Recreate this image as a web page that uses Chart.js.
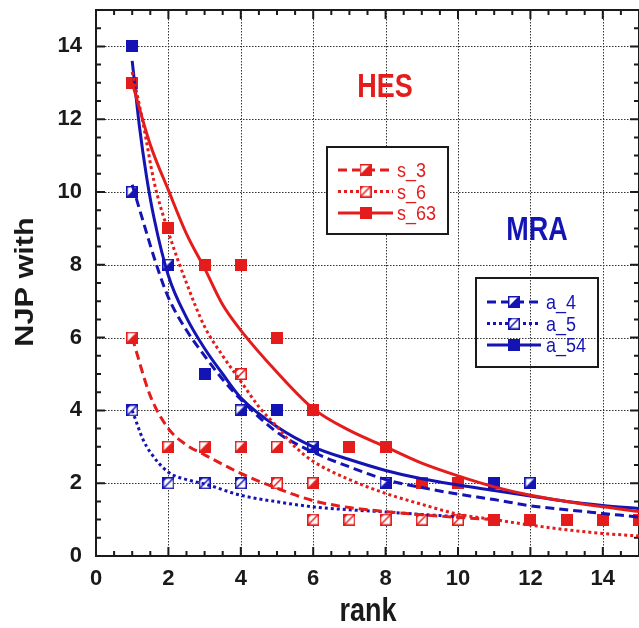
<!DOCTYPE html>
<html>
<head>
<meta charset="utf-8">
<title>NJP with vs rank</title>
<script src="https://cdn.jsdelivr.net/npm/chart.js@4.4.0/dist/chart.umd.min.js"></script>
<style>
  html, body { margin: 0; padding: 0; background: #fff; }
  #wrap { width: 639px; height: 628px; }
</style>
</head>
<body>
<div id="wrap"><canvas id="njpChart" width="639" height="628"></canvas></div>
<script>
// tick labels
const xTickLabels = [0, 2, 4, 6, 8, 10, 12, 14];
const yTickLabels = [0, 2, 4, 6, 8, 10, 12, 14];

// HES - measured points
const s63Ranks = [1, 2, 3, 4, 5, 6, 7, 8, 9, 10, 11, 12, 13, 14, 15];
const s63Values = [13, 9, 8, 8, 6, 4, 3, 3, 2, 2, 1, 1, 1, 1, 1];
const s3Ranks = [1, 2, 3, 4, 5, 6];
const s3Values = [6, 3, 3, 3, 3, 2];
const s6Ranks = [4, 5, 6, 7, 8, 9, 10];
const s6Values = [5, 2, 1, 1, 1, 1, 1];

// HES - fitted curves
const s63FitX = [1, 1.5, 2, 2.5, 3, 3.5, 4, 5, 6, 7, 8, 9, 10, 11, 12, 13, 14, 15];
const s63FitY = [13, 11.3, 10.05, 8.85, 7.9, 6.9, 6.2, 5.05, 4.05, 3.45, 3.0, 2.55, 2.2, 1.9, 1.67, 1.5, 1.35, 1.22];
const s6FitX = [1, 1.3, 1.6, 2, 2.5, 3, 3.5, 4, 4.5, 5, 5.5, 6, 7, 8, 9, 10, 11, 12, 13, 14, 15];
const s6FitY = [13.3, 11.9, 10.3, 8.9, 7.5, 6.3, 5.5, 4.8, 4.1, 3.55, 3.0, 2.6, 2.1, 1.72, 1.42, 1.15, 1.0, 0.85, 0.72, 0.62, 0.55];
const s3FitX = [1, 1.5, 2, 2.5, 3, 4, 5, 6, 7, 8, 9, 10, 11];
const s3FitY = [6, 4.4, 3.5, 3.05, 2.78, 2.27, 1.86, 1.52, 1.33, 1.22, 1.13, 1.06, 1.0];

// MRA - measured points
const a54Ranks = [1, 3, 5, 11];
const a54Values = [14, 5, 4, 2];
const a4Ranks = [1, 2, 4, 6, 8, 12];
const a4Values = [10, 8, 4, 3, 2, 2];
const a5Ranks = [1, 2, 3, 4];
const a5Values = [4, 2, 2, 2];

// MRA - fitted curves
const a54FitX = [1, 1.2, 1.4, 1.6, 2, 2.5, 3, 3.5, 4, 5, 6, 7, 8, 9, 10, 11, 12, 13, 14, 15];
const a54FitY = [13.6, 11.8, 10.4, 9.3, 7.7, 6.55, 5.7, 5.0, 4.35, 3.55, 3.0, 2.65, 2.35, 2.12, 1.95, 1.8, 1.65, 1.5, 1.39, 1.3];
const a4FitX = [1, 1.3, 1.67, 2, 2.5, 3, 3.5, 4, 5, 6, 7, 8, 9, 10, 11, 12, 13, 14, 15];
const a4FitY = [10.2, 9.2, 8.0, 7.1, 6.2, 5.5, 4.85, 4.3, 3.4, 2.85, 2.45, 2.1, 1.88, 1.7, 1.55, 1.38, 1.27, 1.17, 1.07];
const a5FitX = [1, 1.3, 1.5, 2, 2.5, 3, 4, 5, 6, 7, 8, 9, 10];
const a5FitY = [4.0, 3.2, 2.85, 2.3, 2.1, 1.98, 1.67, 1.49, 1.35, 1.27, 1.21, 1.14, 1.08];

const RED = '#e41c1c';
const BLUE = '#1414b4';
const INK = '#1a1a1a';
const DASHED = [9, 5];
const DOTTED = [3, 3];

// small square symbols like in the original plot
function makeMarker(color, kind) {
    const size = 12;
    const c = document.createElement('canvas');
    c.width = size; c.height = size;
    const g = c.getContext('2d');
    if (kind === 'filled') {
        g.fillStyle = color;
        g.fillRect(0, 0, size, size);
        return c;
    }
    g.fillStyle = '#fff';
    g.fillRect(0, 0, size, size);
    g.fillStyle = color;
    g.beginPath();
    if (kind === 'half') {
        g.moveTo(size, 0); g.lineTo(size, size); g.lineTo(0, size);
    } else {
        g.moveTo(0, 0); g.lineTo(size * 0.45, 0); g.lineTo(0, size * 0.45);
    }
    g.closePath();
    g.fill();
    g.strokeStyle = color;
    g.lineWidth = 1.5;
    g.strokeRect(0.75, 0.75, size - 1.5, size - 1.5);
    g.beginPath(); g.moveTo(0, size); g.lineTo(size, 0); g.stroke();
    return c;
}

function pairs(xs, ys) {
    return xs.map((x, i) => ({ x: x, y: ys[i] }));
}

function fitLine(label, xs, ys, color, dash) {
    return {
        label: label,
        data: pairs(xs, ys),
        showLine: true,
        borderColor: color,
        borderWidth: 3,
        borderDash: dash,
        pointRadius: 0,
        cubicInterpolationMode: 'monotone',
        fill: false
    };
}

function marks(label, xs, ys, symbol) {
    return {
        label: label,
        data: pairs(xs, ys),
        showLine: false,
        pointStyle: symbol,
        pointRadius: 6
    };
}

const sym = {
    s63: makeMarker(RED, 'filled'),
    s3: makeMarker(RED, 'half'),
    s6: makeMarker(RED, 'open'),
    a54: makeMarker(BLUE, 'filled'),
    a4: makeMarker(BLUE, 'half'),
    a5: makeMarker(BLUE, 'open')
};

// legend entries (drawn by the plugin below)
const hesLegend = [
    { text: 's_3', color: RED, dash: DASHED, symbol: sym.s3 },
    { text: 's_6', color: RED, dash: DOTTED, symbol: sym.s6 },
    { text: 's_63', color: RED, dash: [], symbol: sym.s63 }
];
const mraLegend = [
    { text: 'a_4', color: BLUE, dash: DASHED, symbol: sym.a4 },
    { text: 'a_5', color: BLUE, dash: DOTTED, symbol: sym.a5 },
    { text: 'a_54', color: BLUE, dash: [], symbol: sym.a54 }
];

function stretchedText(ctx, text, x, y, font, color, sx, sy, align) {
    ctx.save();
    ctx.translate(x, y);
    ctx.scale(sx, sy);
    ctx.font = font;
    ctx.fillStyle = color;
    ctx.textAlign = align || 'center';
    ctx.textBaseline = 'alphabetic';
    ctx.fillText(text, 0, 0);
    ctx.restore();
}

function drawLegendBox(ctx, box, entries, opaque) {
    if (opaque) {
        ctx.fillStyle = '#fff';
        ctx.fillRect(box.x, box.y, box.w, box.h);
    }
    ctx.strokeStyle = INK;
    ctx.lineWidth = 2;
    ctx.setLineDash([]);
    ctx.strokeRect(box.x, box.y, box.w, box.h);
    entries.forEach((e, i) => {
        const y = box.firstY + i * box.gap;
        ctx.strokeStyle = e.color;
        ctx.lineWidth = 3;
        ctx.setLineDash(e.dash);
        ctx.beginPath();
        ctx.moveTo(box.lineX0, y);
        ctx.lineTo(box.lineX1, y);
        ctx.stroke();
        ctx.setLineDash([]);
        const mx = (box.lineX0 + box.lineX1) / 2;
        ctx.drawImage(e.symbol, mx - 6, y - 6);
        stretchedText(ctx, e.text, box.textX, y + 7, '18px "Liberation Sans", Arial, sans-serif', e.color, 1, 1.15, 'left');
    });
}

// frame, dotted grid and inward ticks like Origin
const framePlugin = {
    id: 'frame',
    beforeDatasetsDraw(chart) {
        const { ctx, chartArea: a, scales: { x, y } } = chart;
        ctx.save();
        ctx.strokeStyle = '#333';
        ctx.lineWidth = 1;
        ctx.setLineDash([1.5, 1.5]);
        xTickLabels.slice(1).forEach(v => {
            const px = Math.round(x.getPixelForValue(v)) + 0.5;
            ctx.beginPath(); ctx.moveTo(px, a.top); ctx.lineTo(px, a.bottom); ctx.stroke();
        });
        yTickLabels.slice(1).forEach(v => {
            const py = Math.round(y.getPixelForValue(v)) + 0.5;
            ctx.beginPath(); ctx.moveTo(a.left, py); ctx.lineTo(a.right, py); ctx.stroke();
        });
        ctx.setLineDash([]);

        // ticks every 0.5, longer on labelled values
        ctx.strokeStyle = INK;
        ctx.lineWidth = 2;
        for (let v = 0.5; v < 15; v += 0.5) {
            const len = v % 2 === 0 ? 9 : 5;
            const px = x.getPixelForValue(v);
            const py = y.getPixelForValue(v);
            ctx.beginPath();
            ctx.moveTo(px, a.bottom); ctx.lineTo(px, a.bottom - len);
            ctx.moveTo(px, a.top); ctx.lineTo(px, a.top + len);
            ctx.moveTo(a.left, py); ctx.lineTo(a.left + len, py);
            ctx.moveTo(a.right, py); ctx.lineTo(a.right - len, py);
            ctx.stroke();
        }
        ctx.strokeRect(a.left, a.top, a.right - a.left, a.bottom - a.top);
        ctx.restore();
    },
    afterDatasetsDraw(chart) {
        const ctx = chart.ctx;
        ctx.save();
        const bold = 'bold 27px "Liberation Sans", Arial, sans-serif';
        stretchedText(ctx, 'HES', 385, 97, bold, RED, 1, 1.22);
        stretchedText(ctx, 'MRA', 537, 240, bold, BLUE, 1, 1.2);

        drawLegendBox(ctx, { x: 327, y: 147, w: 121, h: 87, firstY: 170, gap: 21.5,
            lineX0: 338, lineX1: 393, textX: 397 }, hesLegend, true);
        drawLegendBox(ctx, { x: 476, y: 278, w: 122, h: 89, firstY: 302, gap: 21.5,
            lineX0: 487, lineX1: 541, textX: 546 }, mraLegend, false);

        // axis titles
        stretchedText(ctx, 'rank', 368, 621, bold, INK, 1, 1.22);
        ctx.save();
        ctx.translate(33, 282);
        ctx.rotate(-Math.PI / 2);
        stretchedText(ctx, 'NJP with', 0, 0, 'bold 26px "Liberation Sans", Arial, sans-serif', INK, 1.18, 1);
        ctx.restore();
        ctx.restore();
    }
};

// keep the plot box where the original has it: no extra room for label overhang
function noOverhang(s) {
    s.paddingLeft = 0; s.paddingRight = 0; s.paddingTop = 0; s.paddingBottom = 0;
}

const tickFont = { family: '"Liberation Sans", Arial, sans-serif', size: 22, weight: 'bold' };

const ctx = document.getElementById('njpChart').getContext('2d');
const njpChart = new Chart(ctx, {
    type: 'scatter',
    data: {
        datasets: [
            fitLine('s_63 fit', s63FitX, s63FitY, RED, []),
            fitLine('s_6 fit', s6FitX, s6FitY, RED, DOTTED),
            fitLine('s_3 fit', s3FitX, s3FitY, RED, DASHED),
            fitLine('a_54 fit', a54FitX, a54FitY, BLUE, []),
            fitLine('a_4 fit', a4FitX, a4FitY, BLUE, DASHED),
            fitLine('a_5 fit', a5FitX, a5FitY, BLUE, DOTTED),
            marks('s_63', s63Ranks, s63Values, sym.s63),
            marks('s_3', s3Ranks, s3Values, sym.s3),
            marks('s_6', s6Ranks, s6Values, sym.s6),
            marks('a_54', a54Ranks, a54Values, sym.a54),
            marks('a_4', a4Ranks, a4Values, sym.a4),
            marks('a_5', a5Ranks, a5Values, sym.a5)
        ]
    },
    options: {
        responsive: false,
        animation: false,
        devicePixelRatio: 1,
        layout: { autoPadding: false, padding: { left: 0, top: 10, right: -2, bottom: 0 } },
        plugins: {
            legend: { display: false },
            tooltip: { enabled: false }
        },
        scales: {
            x: {
                type: 'linear',
                min: 0,
                max: 15,
                grid: { display: false, drawTicks: false },
                border: { display: false },
                afterBuildTicks: s => { s.ticks = xTickLabels.map(v => ({ value: v })); },
                afterFit: s => { s.height = 72; noOverhang(s); },
                ticks: { autoSkip: false, maxRotation: 0, padding: 10, color: INK, font: tickFont }
            },
            y: {
                type: 'linear',
                min: 0,
                max: 15,
                grid: { display: false, drawTicks: false },
                border: { display: false },
                afterBuildTicks: s => { s.ticks = yTickLabels.map(v => ({ value: v })); },
                afterFit: s => { s.width = 96; noOverhang(s); },
                ticks: { autoSkip: false, padding: 14, color: INK, font: tickFont }
            }
        }
    },
    plugins: [framePlugin]
});
</script>
</body>
</html>
